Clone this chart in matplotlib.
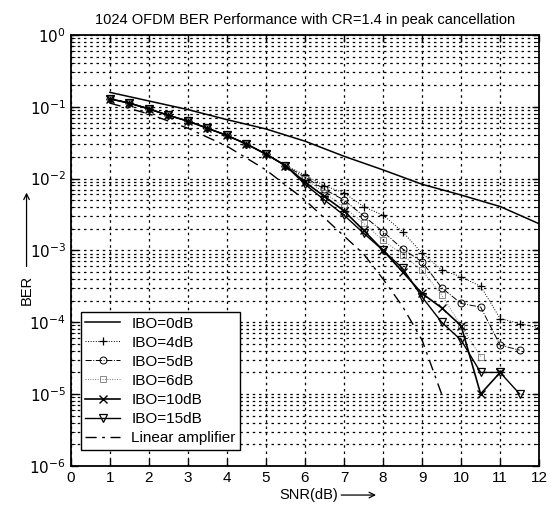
import numpy as np
import matplotlib

matplotlib.use("Agg")
import matplotlib.pyplot as plt
from matplotlib.ticker import LogLocator, NullFormatter, FixedLocator

plt.rcParams["font.family"] = ["Liberation Sans", "DejaVu Sans"]

# ── Data (log10 BER) ───────────────────────────────────────
snr_full = [1, 2, 3, 4, 5, 6, 7, 8, 9, 10, 11, 12]
ibo0_log = [-0.80, -0.92, -1.04, -1.18, -1.31, -1.48, -1.69, -1.88, -2.08, -2.23, -2.39, -2.63]

snr_half = [1, 1.5, 2, 2.5, 3, 3.5, 4, 4.5, 5, 5.5, 6, 6.5, 7, 7.5, 8, 8.5,
            9, 9.5, 10, 10.5, 11, 11.5, 12]
common_log = [-0.89, -0.95, -1.03, -1.12, -1.20, -1.30, -1.40, -1.52, -1.66, -1.82]

ibo4_log = common_log + [-1.95, -2.10, -2.20, -2.39, -2.51, -2.74, -3.04,
                         -3.27, -3.37, -3.50, -3.95, -4.02, -4.08]
ibo5_log = common_log + [-1.98, -2.15, -2.30, -2.52, -2.74, -2.98, -3.16,
                         -3.52, -3.74, -3.79, -4.32, -4.39]
ibo6_log = common_log + [-2.00, -2.20, -2.40, -2.62, -2.86, -3.06, -3.28,
                         -3.62, -4.05, -4.48]
ibo10_log = common_log + [-2.05, -2.25, -2.45, -2.72, -3.00, -3.30, -3.60,
                          -3.80, -4.05, -5.00, -4.70]
ibo15_log = common_log + [-2.08, -2.30, -2.51, -2.76, -3.00, -3.25, -3.65,
                          -4.00, -4.25, -4.70, -4.70, -5.00]

snr_lin = [1, 2, 3, 4, 5, 6, 6.5, 7, 7.5, 8, 8.5, 9, 9.5]
lin_log = [-0.95, -1.10, -1.30, -1.55, -1.88, -2.30, -2.55, -2.80, -3.05,
           -3.40, -3.78, -4.25, -5.00]

xticks = list(range(0, 13))
ytick_exp = [0, -1, -2, -3, -4, -5, -6]


def ber(vals):
    return 10.0 ** np.array(vals)


fig = plt.figure(figsize=(5.53, 5.13), dpi=100)
ax = fig.add_axes([0.128, 0.092, 0.847, 0.840])

ax.plot(snr_full, ber(ibo0_log), color="black", lw=1.1, ls="-", label="IBO=0dB")
ax.plot(snr_half[:len(ibo4_log)], ber(ibo4_log), color="black", lw=0.7, ls=":",
        marker="+", ms=6, mew=0.9, label="IBO=4dB")
ax.plot(snr_half[:len(ibo5_log)], ber(ibo5_log), color="black", lw=0.7, ls="-.",
        marker="o", ms=5, mfc="none", mew=0.7, label="IBO=5dB")
ax.plot(snr_half[:len(ibo6_log)], ber(ibo6_log), color="#777777", lw=0.7,
        ls=(0, (1, 1.5)), marker="s", ms=4, mfc="none", mew=0.6, label="IBO=6dB")
ax.plot(snr_half[:len(ibo10_log)], ber(ibo10_log), color="black", lw=1.2, ls="-",
        marker="x", ms=6, mew=1.0, label="IBO=10dB")
ax.plot(snr_half[:len(ibo15_log)], ber(ibo15_log), color="black", lw=1.0, ls="-",
        marker="v", ms=6, mfc="none", mew=0.9, label="IBO=15dB")
ax.plot(snr_lin, ber(lin_log), color="black", lw=1.0, ls=(0, (8, 4, 2, 4)),
        label="Linear amplifier")

ax.set_yscale("log")
ax.set_xlim(0, 12)
ax.set_ylim(1e-6, 1)
ax.xaxis.set_major_locator(FixedLocator(xticks))
ax.yaxis.set_major_locator(FixedLocator([10.0 ** e for e in ytick_exp]))
ax.set_yticklabels([r"$10^{%d}$" % e for e in ytick_exp])
ax.yaxis.set_minor_locator(LogLocator(base=10, subs=np.arange(2, 10), numticks=20))
ax.yaxis.set_minor_formatter(NullFormatter())

ax.grid(True, which="major", axis="both", color="black", ls=(0, (2, 3)), lw=0.9)
ax.grid(True, which="minor", axis="y", color="black", ls=(0, (2, 3)), lw=0.9)
ax.tick_params(which="both", direction="in", top=True, right=True, labelsize=11)
ax.tick_params(which="major", length=5, width=1)
ax.tick_params(which="minor", length=3)
for sp in ax.spines.values():
    sp.set_linewidth(1.3)

ax.set_title("1024 OFDM BER Performance with CR=1.4 in peak cancellation",
             fontsize=10.5, pad=8)

# axis labels with arrows, as in the original figure
fig.text(0.505, 0.035, "SNR(dB)", fontsize=10.5, ha="left", va="center")
ax.annotate("", xy=(0.685, 0.035), xytext=(0.612, 0.035), xycoords="figure fraction",
            arrowprops=dict(arrowstyle="->", lw=0.9, color="black"))
fig.text(0.048, 0.435, "BER", fontsize=10.5, rotation=90, ha="center", va="center")
ax.annotate("", xy=(0.048, 0.63), xytext=(0.048, 0.475), xycoords="figure fraction",
            arrowprops=dict(arrowstyle="->", lw=0.9, color="black"))

leg = ax.legend(loc="lower left", bbox_to_anchor=(0.005, 0.02), fontsize=11,
                frameon=True, fancybox=False, framealpha=1, edgecolor="black",
                handlelength=2.3, borderpad=0.3, labelspacing=0.33,
                handletextpad=0.7)
leg.get_frame().set_linewidth(1.0)

fig.savefig("out.png", dpi=100)
